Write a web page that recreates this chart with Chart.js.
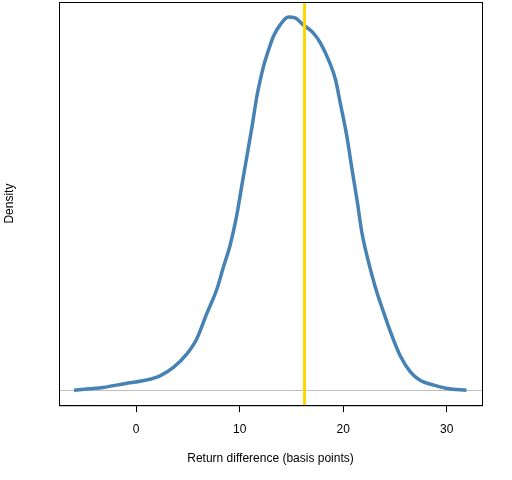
<!DOCTYPE html>
<html>
<head>
<meta charset="utf-8">
<script src="https://cdn.jsdelivr.net/npm/chart.js@4/dist/chart.umd.min.js"></script>
<style>
  html, body { margin: 0; padding: 0; background: #fff; }
  #wrap { width: 512px; height: 480px; }
</style>
</head>
<body>
<div id="wrap"><canvas id="densityChart" width="512" height="480"></canvas></div>
<script>
// Return difference (basis points) vs. density
const returnDiff = [-6.0, -4.5, -3.2, -0.9, 1.0, 2.3, 3.6, 4.9, 5.85, 6.8, 7.8, 8.4, 9.1, 9.7, 10.2, 10.7,
  11.2, 11.65, 12.0, 12.3, 12.8, 13.25, 13.9, 14.7, 15.35, 16.15, 17.1, 17.8, 18.6, 19.25, 19.7, 20.35,
  20.85, 21.35, 21.8, 22.45, 23.1, 23.9, 24.7, 25.5, 26.5, 27.45, 28.75, 30.05, 31.9];
const density = [0.0000, 0.0003, 0.0006, 0.0015, 0.0022, 0.0031, 0.0049, 0.0078, 0.0110, 0.0163, 0.0217,
  0.0262, 0.0313, 0.0373, 0.0438, 0.0502, 0.0566, 0.0629, 0.0666, 0.0694, 0.0730, 0.0758, 0.0783, 0.0800,
  0.0798, 0.0783, 0.0766, 0.0744, 0.0707, 0.0666, 0.0617, 0.0544, 0.0473, 0.0405, 0.0338, 0.0274, 0.0221,
  0.0167, 0.0117, 0.0074, 0.0039, 0.0021, 0.0011, 0.0004, 0.0000];
const xTicks = [0, 10, 20, 30];
const markerValue = 16.26;

const FONT = "'Liberation Sans', Arial, sans-serif";

// box, zero line, marker line and y title drawn on top of the scales
const extras = {
    id: 'extras',
    beforeDatasetsDraw(chart) {
        const { ctx, chartArea: a, scales } = chart;
        const y0 = scales.y.getPixelForValue(0);
        ctx.save();
        ctx.strokeStyle = '#bebebe';
        ctx.lineWidth = 1;
        ctx.beginPath();
        ctx.moveTo(a.left, Math.round(y0) + 0.5);
        ctx.lineTo(a.right, Math.round(y0) + 0.5);
        ctx.stroke();
        ctx.restore();
    },
    afterDatasetsDraw(chart) {
        const { ctx, chartArea: a, scales } = chart;
        const xm = scales.x.getPixelForValue(markerValue);
        ctx.save();
        ctx.strokeStyle = '#ffd700';
        ctx.lineWidth = 3;
        ctx.beginPath();
        ctx.moveTo(xm, a.top);
        ctx.lineTo(xm, a.bottom);
        ctx.stroke();

        ctx.strokeStyle = '#000';
        ctx.lineWidth = 1;
        ctx.strokeRect(a.left + 0.5, a.top + 0.5, a.right - a.left, a.bottom - a.top);

        ctx.fillStyle = '#000';
        ctx.font = '12px ' + FONT;
        ctx.textAlign = 'center';
        ctx.textBaseline = 'middle';
        ctx.translate(10, (a.top + a.bottom) / 2);
        ctx.rotate(-Math.PI / 2);
        ctx.fillText('Density', 0, 0);
        ctx.restore();
    }
};

new Chart(document.getElementById('densityChart'), {
    type: 'line',
    data: {
        datasets: [{
            data: returnDiff.map((x, i) => ({ x: x, y: density[i] })),
            borderColor: '#4682b4',
            borderWidth: 3.5,
            pointRadius: 0,
            fill: false,
            cubicInterpolationMode: 'monotone'
        }]
    },
    options: {
        responsive: false,
        animation: false,
        devicePixelRatio: 1,
        layout: { padding: { left: 59, right: 30, top: 2, bottom: 14 } },
        plugins: { legend: { display: false }, tooltip: { enabled: false } },
        scales: {
            x: {
                type: 'linear',
                min: -7.45,
                max: 33.4,
                afterBuildTicks: axis => { axis.ticks = xTicks.map(v => ({ value: v })); },
                grid: { drawOnChartArea: false, drawTicks: true, tickLength: 7, tickColor: '#000' },
                border: { display: true, color: '#000' },
                ticks: { color: '#000', font: { family: FONT, size: 12 }, padding: 10, maxRotation: 0 },
                title: {
                    display: true,
                    text: 'Return difference (basis points)',
                    color: '#000',
                    font: { family: FONT, size: 12 },
                    padding: { top: 5, bottom: 0 }
                }
            },
            y: {
                display: false,
                min: -0.0032,
                max: 0.0832
            }
        }
    },
    plugins: [extras]
});
</script>
</body>
</html>
